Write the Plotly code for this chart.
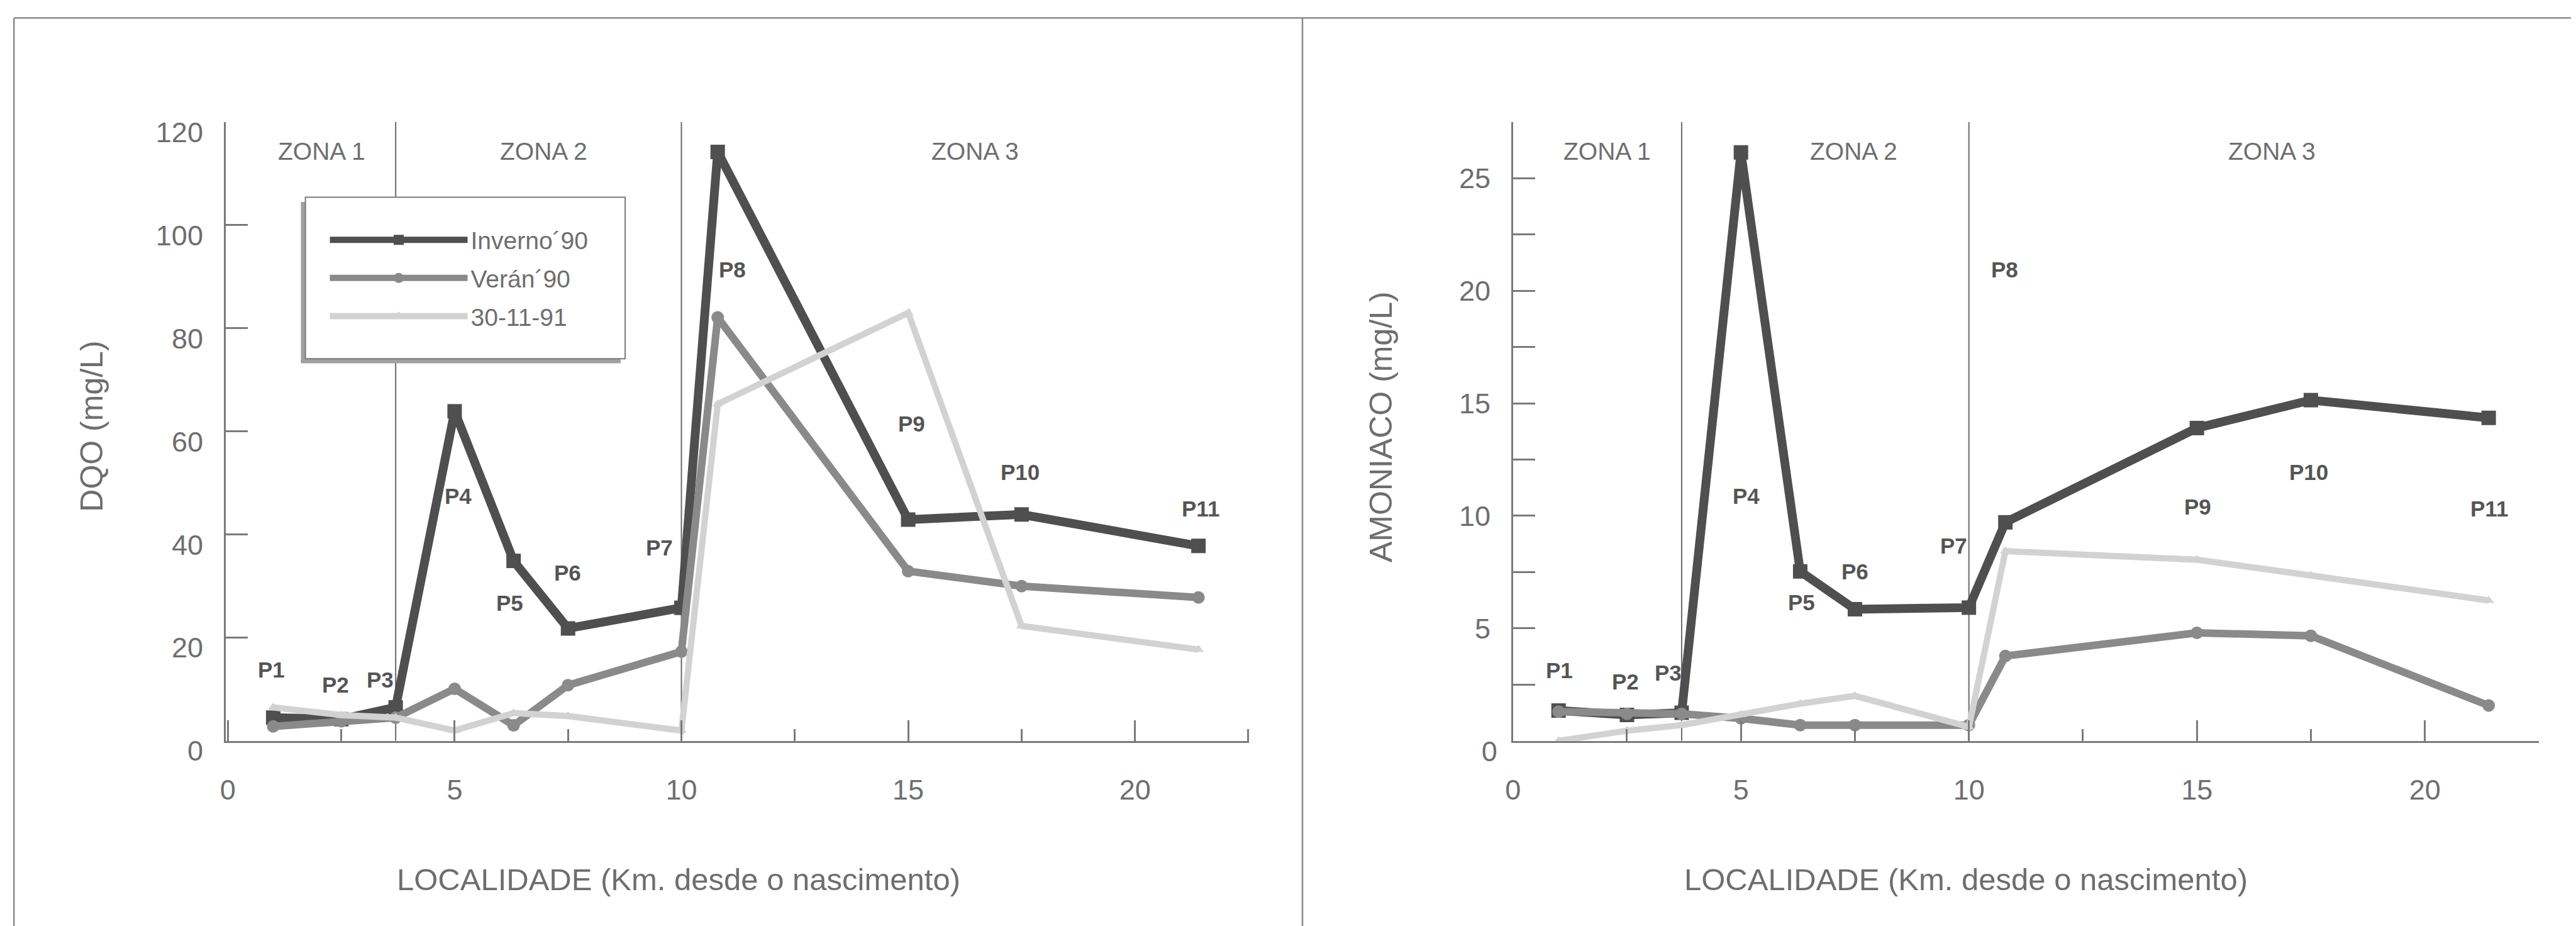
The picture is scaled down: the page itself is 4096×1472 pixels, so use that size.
import plotly.graph_objects as go

# ---------------- data ----------------
stations = ["P1", "P2", "P3", "P4", "P5", "P6", "P7", "P8", "P9", "P10", "P11"]
km = [1.0, 2.5, 3.7, 5.0, 6.3, 7.5, 10.0, 10.8, 15.0, 17.5, 21.4]
series_names = ["Inverno´90", "Verán´90", "30-11-91"]

dqo_inverno = [4.5, 4.2, 6.5, 63.9, 34.9, 21.8, 25.8, 114.2, 42.9, 43.9, 37.8]
dqo_veran = [2.8, 3.8, 4.5, 10.1, 3.0, 10.8, 17.3, 82.1, 32.9, 30.0, 27.8]
dqo_nov91 = [6.5, 5.0, 4.5, 2.0, 5.4, 4.8, 2.0, 65.3, 83.0, 22.3, 17.7]

nh3_inverno = [1.35, 1.15, 1.25, 26.15, 7.53, 5.85, 5.92, 9.71, 13.9, 15.14, 14.35]
nh3_veran = [1.3, 1.2, 1.2, 1.0, 0.7, 0.7, 0.7, 3.77, 4.8, 4.67, 1.57]
nh3_nov91 = [0.0, 0.45, 0.7, 1.17, 1.65, 2.0, 0.62, 8.43, 8.05, 7.35, 6.24]

zone_names = ["ZONA 1", "ZONA 2", "ZONA 3"]
zone_bounds = [3.7, 10.0]

x_title = "LOCALIDADE (Km. desde o nascimento)"
dqo_title = "DQO (mg/L)"
nh3_title = "AMONIACO (mg/L)"

# label positions (data coords)
dqo_lab_x = [0.96, 2.38, 3.36, 5.08, 6.22, 7.49, 9.52, 11.12, 15.07, 17.47, 21.45]
dqo_lab_y = [13.8, 10.9, 11.8, 47.5, 26.7, 32.6, 37.5, 91.4, 61.5, 52.1, 45.0]
nh3_lab_x = [1.02, 2.46, 3.40, 5.12, 6.33, 7.50, 9.66, 10.79, 15.02, 17.45, 21.41]
nh3_lab_y = [3.15, 2.63, 3.02, 10.89, 6.16, 7.53, 8.66, 20.94, 10.41, 11.94, 10.32]
dqo_zone_x = [2.07, 6.96, 16.47]
nh3_zone_x = [2.07, 7.47, 16.64]

# ---------------- layout geometry ----------------
W, H = 4096, 1472
OFF = 8  # page body margin
FONT = "Liberation Sans"
TXT = "#6e6e6e"
AX = "#7a7a7a"


def pxx(v):
    return (v - OFF) / W


def pxy(v):
    return 1 - (v - OFF) / H


xd1 = [pxx(358.7), pxx(1986.4)]
xd2 = [pxx(2405.7), pxx(4036.9)]
yd = [pxy(1177.7), pxy(193.9)]

styles = [
    dict(color="#4f4f4f", width=14, symbol="square", msize=23),
    dict(color="#8a8a8a", width=12, symbol="circle", msize=20),
    dict(color="#d2d2d2", width=10, symbol="triangle-up", msize=15),
]

fig = go.Figure()

left_data = [dqo_inverno, dqo_veran, dqo_nov91]
right_data = [nh3_inverno, nh3_veran, nh3_nov91]

for k, (name, vals, st) in enumerate(zip(series_names, left_data, styles)):
    fig.add_trace(go.Scatter(
        x=km, y=vals, name=name, mode="lines+markers", legendgroup="g%d" % k,
        line=dict(color=st["color"], width=st["width"]),
        marker=dict(symbol=st["symbol"], size=st["msize"], color=st["color"]),
        xaxis="x", yaxis="y", showlegend=True))

for k, (name, vals, st) in enumerate(zip(series_names, right_data, styles)):
    fig.add_trace(go.Scatter(
        x=km, y=vals, name=name, mode="lines+markers", legendgroup="g%d" % k,
        line=dict(color=st["color"], width=st["width"]),
        marker=dict(symbol=st["symbol"], size=st["msize"], color=st["color"]),
        xaxis="x2", yaxis="y2", showlegend=False))

# empty trace to carry the overlay axis with the shifted "0"
fig.add_trace(go.Scatter(x=[None], y=[None], xaxis="x2", yaxis="y3",
                         showlegend=False, hoverinfo="skip"))

tickfont = dict(family=FONT, size=45, color=TXT)

common_x = dict(
    showgrid=False, zeroline=False, showline=True, linecolor=AX, linewidth=2.5,
    ticks="inside", ticklen=33, tickwidth=2.5, tickcolor=AX,
    tickmode="linear", tick0=0, dtick=5, tickfont=tickfont,
    ticklabelstandoff=37, automargin=False,
    minor=dict(ticks="inside", tick0=0, dtick=2.5, ticklen=19, tickwidth=2.5,
               tickcolor=AX, showgrid=False),
)

fig.update_layout(
    width=W, height=H,
    margin=dict(l=0, r=0, t=0, b=0, pad=0, autoexpand=False),
    paper_bgcolor="white", plot_bgcolor="rgba(0,0,0,0)",
    font=dict(family=FONT, color=TXT),
    xaxis=dict(domain=xd1, range=[-0.05, 22.52], anchor="y", **common_x),
    xaxis2=dict(domain=xd2, range=[0, 22.5], anchor="y2", **common_x),
    yaxis=dict(domain=yd, range=[0, 120], anchor="x", automargin=False,
               showgrid=False, zeroline=False, showline=True, linecolor=AX,
               linewidth=2.5, ticks="inside", ticklen=36, tickwidth=2.5,
               tickcolor=AX, tickmode="linear", tick0=0, dtick=20,
               tickfont=tickfont, ticklabelstandoff=24, ticklabelshift=16),
    yaxis2=dict(domain=yd, range=[0, 27.5], anchor="x2", automargin=False,
                showgrid=False, zeroline=False, showline=True, linecolor=AX,
                linewidth=2.5, ticks="inside", ticklen=36, tickwidth=2.5,
                tickcolor=AX, tickmode="array",
                tickvals=[0, 5, 10, 15, 20, 25],
                ticktext=["", "5", "10", "15", "20", "25"],
                tickfont=tickfont, ticklabelstandoff=24,
                minor=dict(ticks="inside", tick0=0, dtick=2.5, ticklen=36,
                           tickwidth=2.5, tickcolor=AX, showgrid=False)),
    yaxis3=dict(domain=yd, range=[0, 27.5], anchor="x2", overlaying="y2",
                automargin=False,
                showgrid=False, zeroline=False, showline=False, ticks="",
                tickmode="array", tickvals=[0], ticktext=["0"],
                tickfont=tickfont, ticklabelstandoff=24, ticklabelshift=17),
    showlegend=True,
    legend=dict(
        x=pxx(519.5), y=pxy(349.3), xanchor="left", yanchor="top",
        bgcolor="rgba(0,0,0,0)", borderwidth=0,
        font=dict(family=FONT, size=39, color=TXT),
        itemwidth=219, tracegroupgap=7,
    ),
)

shapes = []
# panel frame
shapes.append(dict(type="line", xref="paper", yref="paper", x0=pxx(22.2), x1=1,
                   y0=pxy(28.4), y1=pxy(28.4), line=dict(color="#8a8a8a", width=2.5)))
shapes.append(dict(type="line", xref="paper", yref="paper", x0=pxx(22.2), x1=pxx(22.2),
                   y0=0, y1=pxy(28.4), line=dict(color="#8a8a8a", width=2.5)))
shapes.append(dict(type="line", xref="paper", yref="paper", x0=pxx(2071), x1=pxx(2071),
                   y0=0, y1=pxy(28.4), line=dict(color="#8a8a8a", width=2.5)))
# zone boundaries
for b in zone_bounds:
    shapes.append(dict(type="line", xref="x", yref="y", x0=b, x1=b, y0=0, y1=120,
                       line=dict(color="#6a6a6a", width=2), layer="below"))
    shapes.append(dict(type="line", xref="x2", yref="y2", x0=b, x1=b, y0=0, y1=27.5,
                       line=dict(color="#6a6a6a", width=2), layer="below"))
# legend box with shadow (left panel)
shapes.append(dict(type="rect", xref="x", yref="y", x0=1.61, x1=8.66, y0=73.2, y1=104.5,
                   fillcolor="#a0a0a0", line=dict(width=0), layer="above"))
shapes.append(dict(type="rect", xref="x", yref="y", x0=1.71, x1=8.76, y0=74.1, y1=105.4,
                   fillcolor="white", line=dict(color="#7a7a7a", width=2), layer="above"))
fig.update_layout(shapes=shapes)

ann = []
for i, s in enumerate(stations):
    ann.append(dict(x=dqo_lab_x[i], y=dqo_lab_y[i], xref="x", yref="y", text="<b>%s</b>" % s,
                    showarrow=False, xanchor="center", yanchor="middle",
                    font=dict(family=FONT, size=35, color="#555555")))
    ann.append(dict(x=nh3_lab_x[i], y=nh3_lab_y[i], xref="x2", yref="y2", text="<b>%s</b>" % s,
                    showarrow=False, xanchor="center", yanchor="middle",
                    font=dict(family=FONT, size=35, color="#555555")))
for i, z in enumerate(zone_names):
    ann.append(dict(x=dqo_zone_x[i], y=114.3, xref="x", yref="y", text=z, showarrow=False,
                    xanchor="center", yanchor="middle",
                    font=dict(family=FONT, size=39, color=TXT)))
    ann.append(dict(x=nh3_zone_x[i], y=26.19, xref="x2", yref="y2", text=z, showarrow=False,
                    xanchor="center", yanchor="middle",
                    font=dict(family=FONT, size=39, color=TXT)))
# axis titles
for xc in (1078.6, 3125.6):
    ann.append(dict(x=pxx(xc), y=pxy(1398), xref="paper", yref="paper", text=x_title,
                    showarrow=False, xanchor="center", yanchor="middle",
                    font=dict(family=FONT, size=49, color=TXT)))
ann.append(dict(x=pxx(146), y=pxy(677.7), xref="paper", yref="paper", text=dqo_title,
                showarrow=False, textangle=-90, xanchor="center", yanchor="middle",
                font=dict(family=FONT, size=50, color=TXT)))
ann.append(dict(x=pxx(2196), y=pxy(679), xref="paper", yref="paper", text=nh3_title,
                showarrow=False, textangle=-90, xanchor="center", yanchor="middle",
                font=dict(family=FONT, size=50, color=TXT)))
fig.update_layout(annotations=ann)

fig.write_html("out.html")
